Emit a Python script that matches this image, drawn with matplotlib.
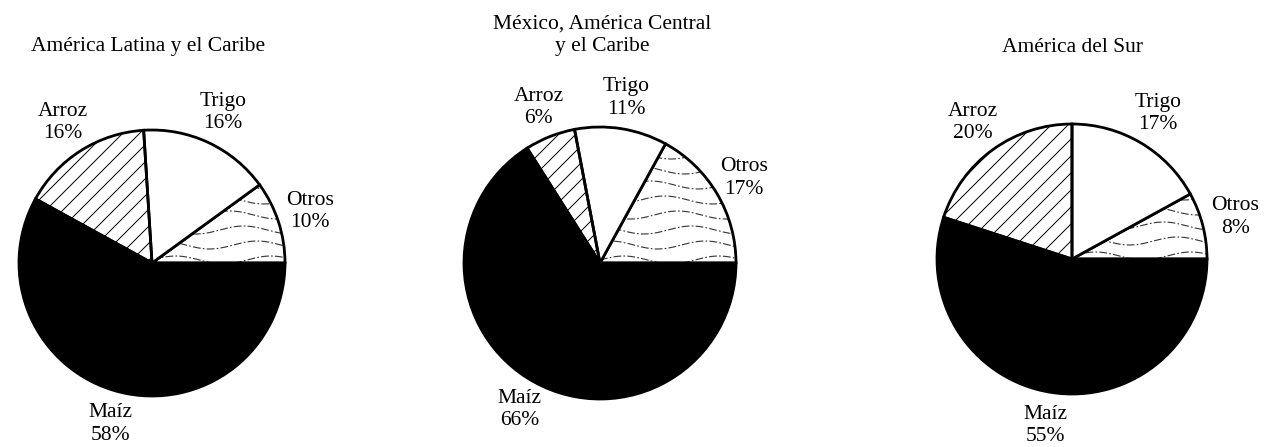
import numpy as np
import matplotlib
matplotlib.use('Agg')
import matplotlib.pyplot as plt
from matplotlib.lines import Line2D

# ---- data ----
categories = ['Otros', 'Trigo', 'Arroz', 'Maíz']
titles = ['América Latina y el Caribe',
          'México, América Central\ny el Caribe',
          'América del Sur']
shares_latam = [10, 16, 16, 58]
shares_mexca = [17, 11, 6, 66]
shares_sur = [8, 17, 20, 55]
all_shares = [shares_latam, shares_mexca, shares_sur]

# ---- layout (pixel-based data space, y up) ----
W, H = 1270, 447
centers = [(152, 184), (600, 184), (1072, 188)]
radii = [133, 136, 135]
label_dist = [1.25, 1.23, 1.25]
title_pos = [(148, 400), (602, 412), (1073, 400)]
FS = 15.5

plt.rcParams['font.family'] = ['Liberation Serif', 'DejaVu Serif']

fig = plt.figure(figsize=(12.7, 4.47), dpi=100)
ax = fig.add_axes([0, 0, 1, 1])

colors = ['none', 'white', 'none', 'black']


def wavy_fill(ax, wedge, cx, cy, r):
    xs = np.linspace(cx, cx + r, 300)
    for k, y0 in enumerate(np.arange(cy + 3, cy + r, 15)):
        y = y0 + 4 * np.sin(2 * np.pi * (xs - cx) / 95 + k * 0.9)
        ln = Line2D(xs, y, color='#333333', lw=0.8,
                    linestyle=(0, (7, 2, 1.5, 2)), zorder=0.5)
        ln.set_clip_path(wedge)
        ax.add_line(ln)


def diag_fill(ax, wedge, cx, cy, r):
    for c in np.arange(-2 * r, 2 * r, 17):
        xs = np.array([cx - r - 5, cx + r + 5])
        ys = cy + (xs - cx) + c
        ln = Line2D(xs, ys, color='black', lw=0.7, zorder=0.5)
        ln.set_clip_path(wedge)
        ax.add_line(ln)


for i, shares in enumerate(all_shares):
    labels = [f'{c}\n{v}%' for c, v in zip(categories, shares)]
    wedges, texts = ax.pie(
        shares, labels=labels, colors=colors, startangle=0,
        counterclock=True, center=centers[i], radius=radii[i],
        labeldistance=label_dist[i],
        wedgeprops=dict(edgecolor='black', linewidth=2),
        textprops=dict(fontsize=FS, ha='center', va='center',
                       linespacing=1.25))
    wavy_fill(ax, wedges[0], centers[i][0], centers[i][1], radii[i])
    diag_fill(ax, wedges[2], centers[i][0], centers[i][1], radii[i])
    ax.text(title_pos[i][0], title_pos[i][1], titles[i], fontsize=FS,
            ha='center', va='center', linespacing=1.25)

ax.set_xlim(0, W)
ax.set_ylim(0, H)
ax.set_aspect('equal')
ax.axis('off')

fig.savefig('out.png', dpi=100, facecolor='white')
